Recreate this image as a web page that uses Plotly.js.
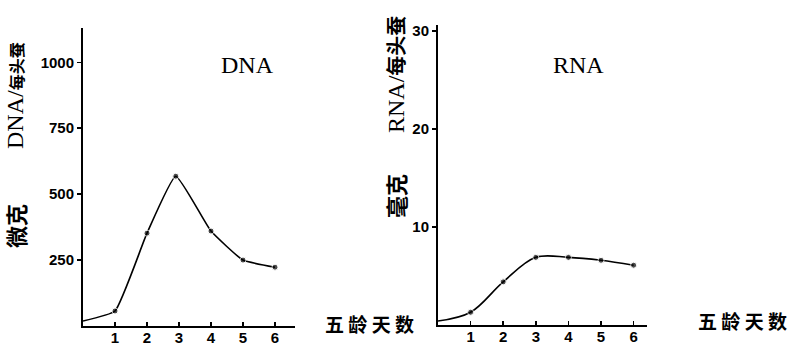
<!DOCTYPE html>
<html>
<head>
<meta charset="utf-8">
<script src="https://cdn.plot.ly/plotly-3.0.1.min.js"></script>
<style>html,body{margin:0;padding:0;background:#fff;}#chart{width:791px;height:347px;}</style>
</head>
<body>
<div id="chart"></div>
<script>
// ---- data ----
const dnaDays = [0, 1, 2, 2.9, 4, 5, 6];
const dnaValues = [19, 57, 352, 568, 360, 250, 223];
const rnaDays = [0, 1, 2, 3, 4, 5, 6];
const rnaValues = [0.4, 1.3, 4.4, 6.9, 6.9, 6.6, 6.1];
const dayTicks = [1, 2, 3, 4, 5, 6];
const dayTickLabels = ['1', '2', '3', '4', '5', '6'];
const dnaTicks = [250, 500, 750, 1000];
const rnaTicks = [10, 20, 30];
const xTitle = '五龄天数';
const dnaLabel = 'DNA';
const rnaLabel = 'RNA';

const W = 791, H = 347;
const px = x => x / W;
const py = y => 1 - y / H;

const tickFont = {family: 'Liberation Sans Narrow, Arial Narrow, sans-serif', size: 15, color: '#000', weight: 'bold'};
const cjkBold = {family: 'Noto Sans CJK SC, sans-serif', color: '#000', weight: 'bold'};
const serif = {family: 'Liberation Serif, Noto Sans CJK SC, serif', color: '#000'};

function markerSizes(n) { const s = []; for (let i = 0; i < n; i++) s.push(i === 0 ? 0 : 6); return s; }

const traces = [
  {x: dnaDays, y: dnaValues, xaxis: 'x', yaxis: 'y', type: 'scatter', mode: 'lines+markers',
   line: {color: '#000', width: 1.6, shape: 'spline', smoothing: 0.4},
   marker: {color: '#000', size: markerSizes(dnaDays.length)}, hoverinfo: 'skip'},
  {x: rnaDays, y: rnaValues, xaxis: 'x2', yaxis: 'y2', type: 'scatter', mode: 'lines+markers',
   line: {color: '#000', width: 1.6, shape: 'spline', smoothing: 1},
   marker: {color: '#000', size: markerSizes(rnaDays.length)}, hoverinfo: 'skip'}
];

const xCommon = {
  showgrid: false, zeroline: false, showline: true, linecolor: '#000', linewidth: 2,
  ticks: 'inside', ticklen: 4, tickwidth: 1.5, tickcolor: '#000', ticklabelstandoff: -3,
  tickvals: dayTicks, ticktext: dayTickLabels, tickfont: tickFont, fixedrange: true
};
const yCommon = {
  showgrid: false, zeroline: false, showline: true, linecolor: '#000', linewidth: 2,
  ticks: 'outside', ticklen: 4, tickwidth: 1.5, tickcolor: '#000',
  tickfont: tickFont, fixedrange: true
};

function ann(x, y, text, font, extra) {
  return Object.assign({xref: 'paper', yref: 'paper', x: px(x), y: py(y), text: text,
    showarrow: false, xanchor: 'center', yanchor: 'middle', font: font}, extra || {});
}

const layout = {
  width: W, height: H,
  margin: {l: 0, r: 0, t: 0, b: 0},
  paper_bgcolor: '#fff', plot_bgcolor: '#fff',
  showlegend: false,
  xaxis: Object.assign({}, xCommon, {domain: [px(83), px(295)], range: [0, 6.625], anchor: 'y'}),
  yaxis: Object.assign({}, yCommon, {domain: [py(326), py(28)], range: [0, 1130], tickvals: dnaTicks, anchor: 'x'}),
  xaxis2: Object.assign({}, xCommon, {domain: [px(438), px(647)], range: [0, 6.41], anchor: 'y2'}),
  yaxis2: Object.assign({}, yCommon, {domain: [py(325), py(25)], range: [0, 30.6], tickvals: rnaTicks, anchor: 'x2'}),
  annotations: [
    ann(247, 65, dnaLabel, Object.assign({}, serif, {size: 24})),
    ann(578, 65, rnaLabel, Object.assign({}, serif, {size: 24})),
    // left y title
    ann(15, 96, 'DNA/<b><span style="font-size:16px;font-family:Noto Sans CJK SC">每头蚕</span></b>',
        Object.assign({}, serif, {size: 24}), {textangle: -90}),
    ann(15, 226, '微克', Object.assign({}, cjkBold, {size: 22}), {textangle: -90}),
    // right y title
    ann(395, 75, 'RNA/<b><span style="font-size:20px;font-family:Noto Sans CJK SC">每头蚕</span></b>',
        Object.assign({}, serif, {size: 24}), {textangle: -90}),
    ann(395, 196, '毫克', Object.assign({}, cjkBold, {size: 22}), {textangle: -90}),
    // x titles
    ann(369, 323, xTitle.split('').join(' '), Object.assign({}, cjkBold, {size: 19})),
    ann(742, 320, xTitle.split('').join(' '), Object.assign({}, cjkBold, {size: 19}))
  ]
};

Plotly.newPlot('chart', traces, layout, {displayModeBar: false, staticPlot: true});
</script>
</body>
</html>
